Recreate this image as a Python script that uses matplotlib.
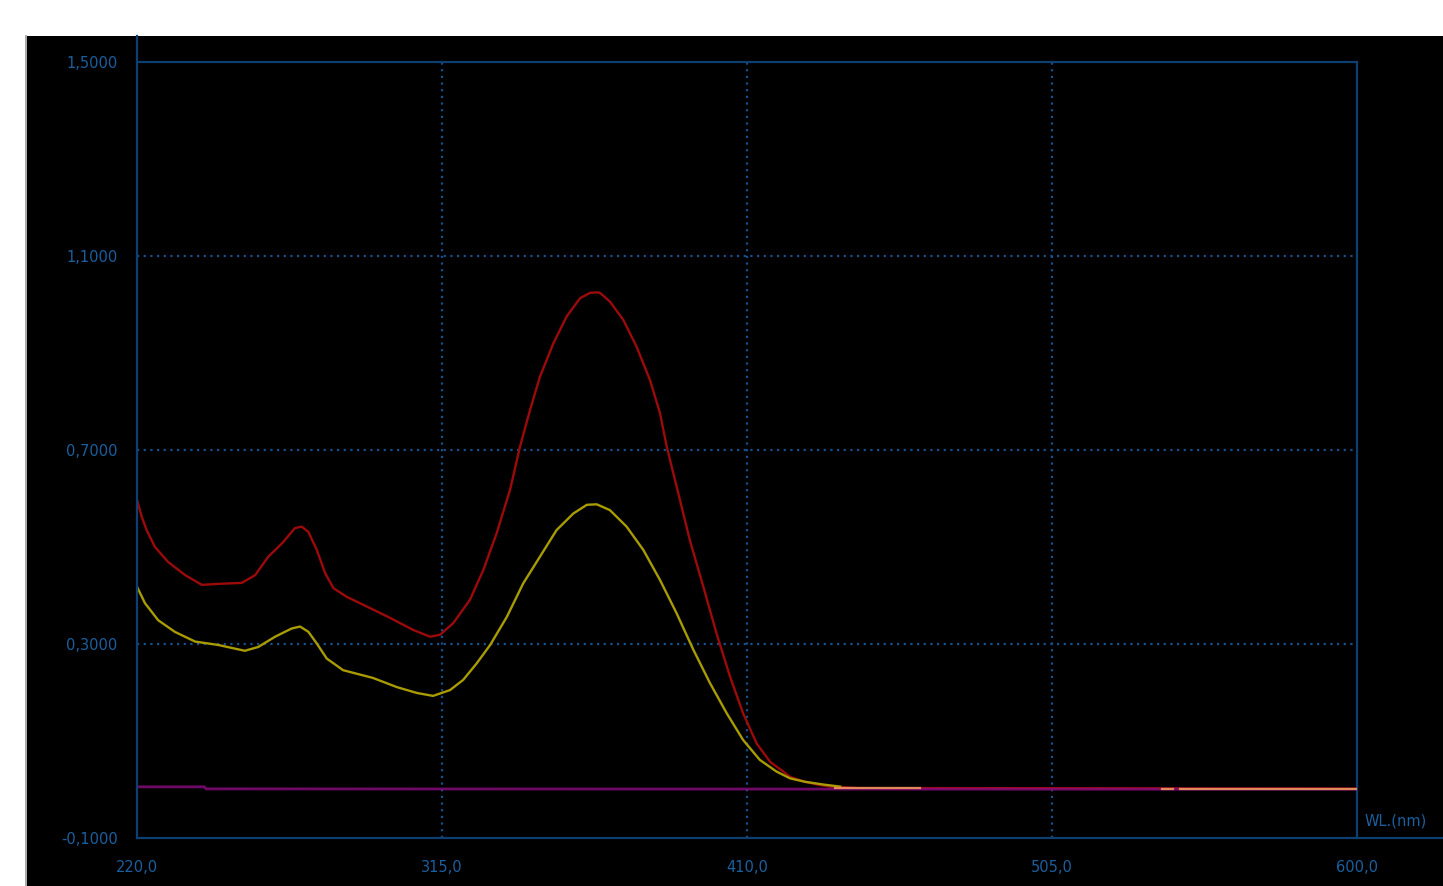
import numpy as np
import matplotlib
matplotlib.use("Agg")
import matplotlib.pyplot as plt
from matplotlib.lines import Line2D
from matplotlib.patches import Rectangle

# Espectros (longitud de onda en nm, absorbancia)
wl_rojo = [220, 221.5, 223, 225.6, 229.7, 235, 240.2, 245.3, 252.6, 256.8, 260.9, 265.1,
           269.2, 271.3, 273.4, 276, 278.6, 281.2, 285.4, 292.6, 298.8, 306, 311.3, 314.4,
           318.5, 323.7, 327.9, 332, 336.2, 339.3, 342.4, 345.5, 349.7, 353.8, 358, 361.1,
           363.2, 364.2, 367.3, 371.5, 375.6, 379.8, 382.9, 385, 388.1, 392.2, 396.4,
           400.5, 404.7, 408.8, 413, 417.2, 421.3, 423.4, 428, 432, 436, 445, 600]
abs_rojo = [0.597, 0.562, 0.535, 0.500, 0.469, 0.442, 0.422, 0.424, 0.426, 0.442, 0.480,
            0.507, 0.539, 0.542, 0.531, 0.494, 0.446, 0.415, 0.397, 0.374, 0.354, 0.329,
            0.315, 0.319, 0.343, 0.391, 0.453, 0.528, 0.618, 0.707, 0.782, 0.851, 0.920,
            0.975, 1.013, 1.024, 1.025, 1.024, 1.006, 0.968, 0.913, 0.844, 0.776, 0.707,
            0.624, 0.514, 0.418, 0.322, 0.233, 0.157, 0.095, 0.057, 0.037, 0.026, 0.016,
            0.010, 0.006, 0.003, 0.002]

wl_amarillo = [220, 222.5, 226.6, 231.8, 238.1, 245.3, 253.6, 257.8, 263, 268.2, 270.8,
               273.4, 276, 279.1, 284.2, 293.5, 301, 307.2, 312.2, 317.5, 321.6, 325.8,
               330, 335.2, 340.3, 345.5, 350.7, 355.9, 360.1, 363.2, 367.3, 372.5, 377.7,
               382.9, 388.1, 393.3, 398.5, 403.7, 408.8, 414, 419.2, 423.4, 428, 434, 439]
abs_amarillo = [0.418, 0.384, 0.349, 0.325, 0.305, 0.298, 0.286, 0.294, 0.315, 0.332,
                0.336, 0.325, 0.301, 0.270, 0.246, 0.230, 0.211, 0.199, 0.193, 0.205,
                0.226, 0.260, 0.298, 0.356, 0.425, 0.480, 0.535, 0.569, 0.587, 0.588,
                0.576, 0.542, 0.494, 0.432, 0.363, 0.288, 0.219, 0.157, 0.102, 0.061,
                0.037, 0.023, 0.016, 0.010, 0.006]

# Linea base (blanco)
wl_base = [220, 241, 241.5, 600]
abs_base = [0.0055, 0.0055, 0.0013, 0.0005]

# Tramos naranjas sobre la linea base
wl_naranja = [437.4, 463.9, np.nan, 539.3, 542.7, np.nan, 544.9, 600]
abs_naranja = [0.003, 0.003, np.nan, 0.002, 0.002, np.nan, 0.002, 0.002]

xticks = [220, 315, 410, 505, 600]
xtick_labels = ["220,0", "315,0", "410,0", "505,0", "600,0"]
yticks = [-0.1, 0.3, 0.7, 1.1, 1.5]
ytick_labels = ["-0,1000", "0,3000", "0,7000", "1,1000", "1,5000"]

AZUL = "#0d3f70"
AZUL_GRID = "#17508c"
AZUL_TXT = "#1c5f9e"

W, H = 1443, 886
fig = plt.figure(figsize=(W / 100, H / 100), dpi=100, facecolor="white")

# fondo negro del instrumento
fig.patches.append(Rectangle((27 / W, 0), 1 - 27 / W, 1 - 36 / H, transform=fig.transFigure,
                             facecolor="black", edgecolor="none", zorder=-5))
fig.lines.append(Line2D([26 / W, 26 / W], [0, 1 - 36 / H], transform=fig.transFigure,
                        color="#9a9a9a", lw=1.2, zorder=-4))

x0, x1 = 137 / W, 1357 / W
y0, y1 = 1 - 838 / H, 1 - 62 / H
ax = fig.add_axes([x0, y0, x1 - x0, y1 - y0], facecolor="black")
ax.set_xlim(220, 600)
ax.set_ylim(-0.1, 1.5)

# ejes extendidos como en el software
fig.lines.append(Line2D([x0, x0], [y0, 1 - 36 / H], transform=fig.transFigure, color=AZUL, lw=1.6))
fig.lines.append(Line2D([x0, 1], [y0, y0], transform=fig.transFigure, color=AZUL, lw=1.6))

for s in ["left", "bottom"]:
    ax.spines[s].set_visible(False)
for s in ["top", "right"]:
    ax.spines[s].set_color(AZUL)
    ax.spines[s].set_linewidth(1.6)

ax.set_xticks(xticks)
ax.set_xticklabels(xtick_labels)
ax.set_yticks(yticks)
ax.set_yticklabels(ytick_labels)
ax.tick_params(length=0, colors=AZUL_TXT, labelsize=10.5)
ax.tick_params(axis="y", pad=14)
ax.tick_params(axis="x", pad=16)
for lab in ax.get_xticklabels() + ax.get_yticklabels():
    lab.set_color(AZUL_TXT)

# grilla punteada (solo lineas interiores)
for xv in xticks[1:-1]:
    ax.axvline(xv, color=AZUL_GRID, lw=1.6, ls=(0, (1, 2)), zorder=1)
for yv in yticks[1:-1]:
    ax.axhline(yv, color=AZUL_GRID, lw=1.6, ls=(0, (1, 2)), zorder=1)

ax.text(1.006, 0.012, "WL.(nm)", transform=ax.transAxes, color=AZUL_TXT, fontsize=10.5,
        ha="left", va="bottom", clip_on=False)

ax.plot(wl_rojo, abs_rojo, color="#9c0a0a", lw=1.7, zorder=3)
ax.plot(wl_amarillo, abs_amarillo, color="#a89c00", lw=1.7, zorder=4)
ax.plot(wl_base, abs_base, color="#8a0c80", lw=2.0, alpha=0.8, zorder=5)
ax.plot(wl_naranja, abs_naranja, color="#e08a5a", lw=1.6, zorder=6)

fig.savefig("out.png", dpi=100, facecolor="white")
